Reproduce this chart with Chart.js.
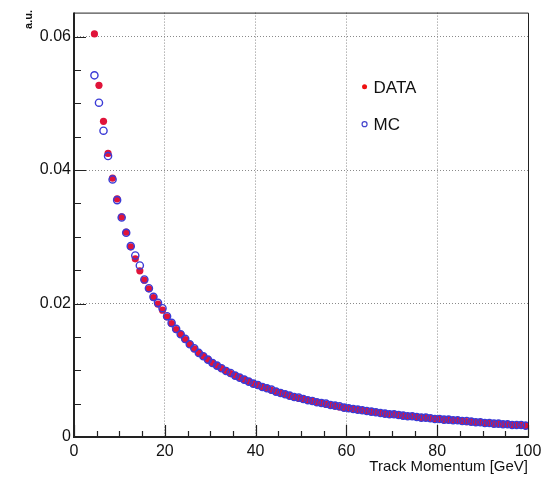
<!DOCTYPE html>
<html>
<head>
<meta charset="utf-8">
<script src="https://cdn.jsdelivr.net/npm/chart.js@4/dist/chart.umd.min.js"></script>
<style>
  html, body { margin: 0; padding: 0; background: #fff; }
  canvas { display: block; }
</style>
</head>
<body>
<canvas id="momentumChart" width="548" height="481"></canvas>
<script>
// bin centres [GeV]
const momentum = [
  4.5, 5.5, 6.5, 7.5, 8.5, 9.5, 10.5, 11.5, 12.5, 13.5,
  14.5, 15.5, 16.5, 17.5, 18.5, 19.5, 20.5, 21.5, 22.5, 23.5,
  24.5, 25.5, 26.5, 27.5, 28.5, 29.5, 30.5, 31.5, 32.5, 33.5,
  34.5, 35.5, 36.5, 37.5, 38.5, 39.5, 40.5, 41.5, 42.5, 43.5,
  44.5, 45.5, 46.5, 47.5, 48.5, 49.5, 50.5, 51.5, 52.5, 53.5,
  54.5, 55.5, 56.5, 57.5, 58.5, 59.5, 60.5, 61.5, 62.5, 63.5,
  64.5, 65.5, 66.5, 67.5, 68.5, 69.5, 70.5, 71.5, 72.5, 73.5,
  74.5, 75.5, 76.5, 77.5, 78.5, 79.5, 80.5, 81.5, 82.5, 83.5,
  84.5, 85.5, 86.5, 87.5, 88.5, 89.5, 90.5, 91.5, 92.5, 93.5,
  94.5, 95.5, 96.5, 97.5, 98.5, 99.5
];

const dataValues = [
  0.0604, 0.0527, 0.0473, 0.0425, 0.0388, 0.0357, 0.0330, 0.0307, 0.0285, 0.0267,
  0.0249, 0.0235, 0.0222, 0.0209, 0.0199, 0.0190, 0.0180, 0.0170, 0.0161, 0.0154,
  0.0146, 0.0139, 0.0132, 0.0126, 0.0121, 0.0116, 0.0111, 0.0107, 0.0103, 0.0099,
  0.0095, 0.0092, 0.0089, 0.0086, 0.0083, 0.0080, 0.0078, 0.0075, 0.0073, 0.0070,
  0.0068, 0.0066, 0.0064, 0.0062, 0.0060, 0.0058, 0.0057, 0.0055, 0.0054, 0.0052,
  0.0051, 0.0049, 0.0048, 0.0047, 0.0045, 0.0044, 0.0043, 0.0042, 0.0041, 0.0040,
  0.0039, 0.0038, 0.0037, 0.0036, 0.0035, 0.0034, 0.0034, 0.0033, 0.0032, 0.0031,
  0.0031, 0.0030, 0.0029, 0.0029, 0.0028, 0.0027, 0.0027, 0.0026, 0.0026, 0.0025,
  0.0025, 0.0024, 0.0023, 0.0023, 0.0022, 0.0022, 0.0021, 0.0021, 0.0020, 0.0020,
  0.0019, 0.0019, 0.0018, 0.0018, 0.0018, 0.0017
];

const mcValues = [
  0.0542, 0.0501, 0.0459, 0.0421, 0.0386, 0.0355, 0.0329, 0.0306, 0.0286, 0.0272,
  0.0257, 0.0236, 0.0223, 0.0210, 0.0201, 0.0193, 0.0181, 0.0171, 0.0162, 0.0154,
  0.0147, 0.0139, 0.0133, 0.0126, 0.0121, 0.0116, 0.0111, 0.0107, 0.0103, 0.0099,
  0.0096, 0.0092, 0.0089, 0.0086, 0.0083, 0.0080, 0.0078, 0.0075, 0.0073, 0.0071,
  0.0068, 0.0066, 0.0064, 0.0062, 0.0060, 0.0059, 0.0057, 0.0055, 0.0054, 0.0052,
  0.0051, 0.0050, 0.0048, 0.0047, 0.0046, 0.0044, 0.0043, 0.0042, 0.0041, 0.0040,
  0.0039, 0.0038, 0.0037, 0.0036, 0.0035, 0.0034, 0.0034, 0.0033, 0.0032, 0.0031,
  0.0031, 0.0030, 0.0029, 0.0029, 0.0028, 0.0027, 0.0027, 0.0026, 0.0026, 0.0025,
  0.0025, 0.0024, 0.0024, 0.0023, 0.0022, 0.0022, 0.0021, 0.0021, 0.0020, 0.0020,
  0.0019, 0.0019, 0.0018, 0.0018, 0.0018, 0.0017
];

const xTicks = [0, 20, 40, 60, 80, 100];
const xTickLabels = ["0", "20", "40", "60", "80", "100"];
const yTicks = [0, 0.02, 0.04, 0.06];
const yTickLabels = ["0", "0.02", "0.04", "0.06"];
const xMinorStep = 5;
const yMinorStep = 0.005;

const FONT = "'Liberation Sans', Arial, sans-serif";

function toPoints(xs, ys) {
    return xs.map(function (x, i) { return { x: x, y: ys[i] }; });
}

// ROOT-like frame: axes, inner tick marks, titles and legend
const framePlugin = {
    id: "frame",
    afterDraw: function (chart) {
        const ctx = chart.ctx;
        const a = chart.chartArea;
        const xs = chart.scales.x;
        const ys = chart.scales.y;
        ctx.save();

        // thin top/right border
        ctx.strokeStyle = "#222";
        ctx.lineWidth = 1;
        ctx.beginPath();
        ctx.moveTo(a.left, a.top + 0.5);
        ctx.lineTo(a.right + 0.5, a.top + 0.5);
        ctx.lineTo(a.right + 0.5, a.bottom);
        ctx.stroke();

        // ticks
        ctx.lineWidth = 1.2;
        ctx.beginPath();
        for (let v = 0; v <= 100.001; v += xMinorStep) {
            const px = Math.round(xs.getPixelForValue(v)) + 0.5;
            const len = (v % 20 === 0) ? 12 : 6;
            ctx.moveTo(px, a.bottom);
            ctx.lineTo(px, a.bottom - len);
        }
        for (let k = 0; k * yMinorStep <= ys.max; k++) {
            const v = k * yMinorStep;
            const py = Math.round(ys.getPixelForValue(v)) + 0.5;
            const len = (k % 4 === 0) ? 12 : 7;
            ctx.moveTo(a.left, py);
            ctx.lineTo(a.left + len, py);
        }
        ctx.stroke();

        // thick left/bottom axes
        ctx.lineWidth = 2;
        ctx.beginPath();
        ctx.moveTo(a.left, a.top);
        ctx.lineTo(a.left, a.bottom);
        ctx.lineTo(a.right + 1, a.bottom);
        ctx.stroke();

        // axis titles
        ctx.fillStyle = "#111";
        ctx.font = "15px " + FONT;
        ctx.textAlign = "right";
        ctx.textBaseline = "middle";
        ctx.fillText("Track Momentum [GeV]", a.right, 467);

        ctx.save();
        ctx.translate(29, 10);
        ctx.rotate(-Math.PI / 2);
        ctx.font = "bold 11px " + FONT;
        ctx.textAlign = "right";
        ctx.fillText("a.u.", 0, 0);
        ctx.restore();

        // legend
        const lx = a.left + (a.right - a.left) * 0.64;
        const ly1 = a.top + (a.bottom - a.top) * 0.175;
        const ly2 = a.top + (a.bottom - a.top) * 0.263;
        ctx.fillStyle = "#ee1111";
        ctx.beginPath();
        ctx.arc(lx, ly1, 2.5, 0, Math.PI * 2);
        ctx.fill();
        ctx.strokeStyle = "#4444cc";
        ctx.lineWidth = 1.2;
        ctx.beginPath();
        ctx.arc(lx, ly2, 2.5, 0, Math.PI * 2);
        ctx.stroke();
        ctx.fillStyle = "#111";
        ctx.font = "17px " + FONT;
        ctx.textAlign = "left";
        ctx.fillText("DATA", lx + 9, ly1 + 1);
        ctx.fillText("MC", lx + 9, ly2 + 1);

        ctx.restore();
    }
};

const canvas = document.getElementById("momentumChart");

new Chart(canvas, {
    type: "scatter",
    data: {
        datasets: [
            {
                label: "MC",
                data: toPoints(momentum, mcValues),
                pointRadius: 3.6,
                pointBackgroundColor: "rgba(0,0,0,0)",
                pointBorderColor: "#3b3bd6",
                pointBorderWidth: 1.4,
                order: 0
            },
            {
                label: "DATA",
                data: toPoints(momentum, dataValues),
                pointRadius: 3.6,
                pointBackgroundColor: "#e0143a",
                pointBorderWidth: 0,
                order: 1
            }
        ]
    },
    options: {
        responsive: false,
        animation: false,
        layout: { padding: { left: 0, top: 8, right: 20, bottom: 0 } },
        plugins: {
            legend: { display: false },
            tooltip: { enabled: false }
        },
        scales: {
            x: {
                type: "linear",
                min: 0,
                max: 100,
                afterFit: function (scale) { scale.height = 44; },
                afterBuildTicks: function (scale) {
                    scale.ticks = xTicks.map(function (v) { return { value: v }; });
                },
                border: { display: false, dash: [1, 2] },
                grid: {
                    drawTicks: false,
                    color: function (c) {
                        const v = c.tick ? c.tick.value : 0;
                        return (v === 0 || v === 100) ? "rgba(0,0,0,0)" : "#8a8a8a";
                    }
                },
                ticks: {
                    padding: 5,
                    maxRotation: 0,
                    color: "#111",
                    font: { family: FONT, size: 16 },
                    callback: function (v) {
                        const i = xTicks.indexOf(v);
                        return i >= 0 ? xTickLabels[i] : "";
                    }
                }
            },
            y: {
                type: "linear",
                min: 0,
                max: 0.0636,
                afterFit: function (scale) { scale.width = 74; },
                afterBuildTicks: function (scale) {
                    scale.ticks = yTicks.map(function (v) { return { value: v }; });
                },
                border: { display: false, dash: [1, 2] },
                grid: {
                    drawTicks: false,
                    color: function (c) {
                        const v = c.tick ? c.tick.value : 0;
                        return v === 0 ? "rgba(0,0,0,0)" : "#8a8a8a";
                    }
                },
                ticks: {
                    padding: 3,
                    color: "#111",
                    font: { family: FONT, size: 16 },
                    callback: function (v) {
                        const i = yTicks.indexOf(v);
                        return i >= 0 ? yTickLabels[i] : "";
                    }
                }
            }
        }
    },
    plugins: [framePlugin]
});
</script>
</body>
</html>
